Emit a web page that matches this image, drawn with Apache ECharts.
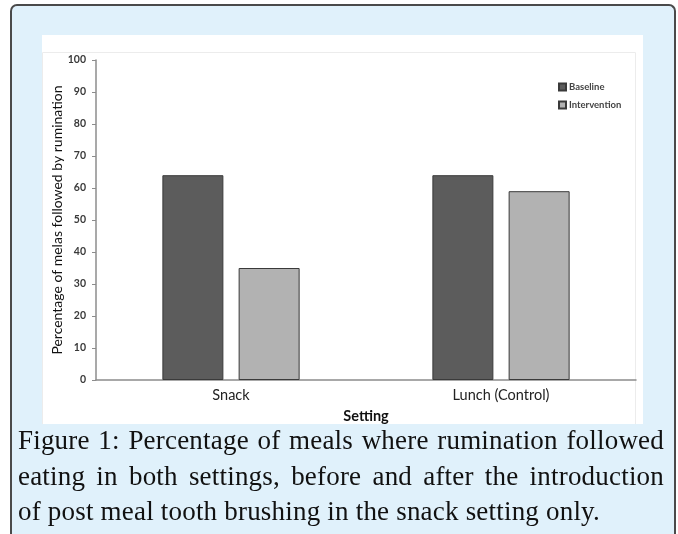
<!DOCTYPE html>
<html>
<head>
<meta charset="utf-8">
<script src="https://cdn.jsdelivr.net/npm/echarts@6/dist/echarts.min.js"></script>
<style>
  html, body { margin: 0; padding: 0; width: 678px; height: 534px; overflow: hidden; background: #ffffff; }
  #frame { position: absolute; left: 10px; top: 4px; width: 662px; height: 540px;
           border: 2px solid #4a4a4a; border-bottom: none; border-top-left-radius: 7px; border-top-right-radius: 7px;
           background: #e0f1fb; }
  #chart { position: absolute; left: 42px; top: 35px; width: 601px; height: 389px; background: #ffffff; }
  #caption { position: absolute; left: 18px; top: 423px; width: 646px;
             font-family: "Liberation Serif", "DejaVu Serif", serif; font-size: 27px; line-height: 35.5px;
             letter-spacing: 0.2px; color: #111; white-space: nowrap; }
  #caption .j { text-align: justify; text-align-last: justify; }
</style>
</head>
<body>
<div id="frame"></div>
<div id="chart"></div>
<div id="caption">
  <div class="j">Figure 1: Percentage of meals where rumination followed</div>
  <div class="j">eating in both settings, before and after the introduction</div>
  <div>of post meal tooth brushing in the snack setting only.</div>
</div>
<script>
const categories = ["Snack", "Lunch (Control)"];
const baseline = [64, 64];
const intervention = [35, 59];
const seriesNames = ["Baseline", "Intervention"];

const chart = echarts.init(document.getElementById('chart'), null, { renderer: 'canvas' });
const font = 'Lato, "Open Sans", sans-serif';
chart.setOption({
  animation: false,
  textStyle: { fontFamily: font },
  graphic: [
    { type: 'rect', shape: { x: 0.5, y: 17.5, width: 593, height: 372 }, style: { fill: 'none', stroke: '#ececec', lineWidth: 1 }, silent: true }
  ],
  legend: {
    orient: 'vertical', left: 511, top: 42, itemWidth: 7, itemHeight: 7, itemGap: 8,
    icon: 'rect',
    textStyle: { fontSize: 9.5, fontWeight: 'bold', color: '#444', fontFamily: font, padding: [0, 0, 0, -2] },
    data: seriesNames
  },
  grid: { left: 54, right: 7, top: 25, bottom: 44, containLabel: false, outerBoundsMode: 'none' },
  xAxis: {
    type: 'category', data: categories,
    name: 'Setting', nameLocation: 'middle', nameGap: 29, nameMoveOverlap: false,
    nameTextStyle: { fontSize: 14.5, fontWeight: 'bold', color: '#111', fontFamily: font },
    axisLine: { lineStyle: { color: '#8c8c8c', width: 1.5 } },
    axisTick: { show: false },
    axisLabel: { fontSize: 14.5, color: '#222', margin: 8, fontFamily: font }
  },
  yAxis: {
    type: 'value', min: 0, max: 100, interval: 10,
    name: 'Percentage of melas followed by rumination', nameLocation: 'middle', nameRotate: 90, nameGap: 32,
    nameMoveOverlap: false,
    nameTextStyle: { fontSize: 14, color: '#111', fontFamily: font },
    axisLine: { show: true, lineStyle: { color: '#8c8c8c', width: 1.5 } },
    axisTick: { show: true, length: 4, lineStyle: { color: '#8c8c8c' } },
    splitLine: { show: false },
    axisLabel: { fontSize: 10.5, fontWeight: 'bold', color: '#3a3a3a', margin: 10, fontFamily: font }
  },
  series: [
    { name: seriesNames[0], type: 'bar', data: baseline, barWidth: 61, barGap: '25%',
      itemStyle: { color: '#5c5c5c', borderColor: '#3a3a3a', borderWidth: 1 } },
    { name: seriesNames[1], type: 'bar', data: intervention, barWidth: 61, barGap: '25%',
      itemStyle: { color: '#b2b2b2', borderColor: '#3a3a3a', borderWidth: 1 } }
  ]
});
</script>
</body>
</html>
